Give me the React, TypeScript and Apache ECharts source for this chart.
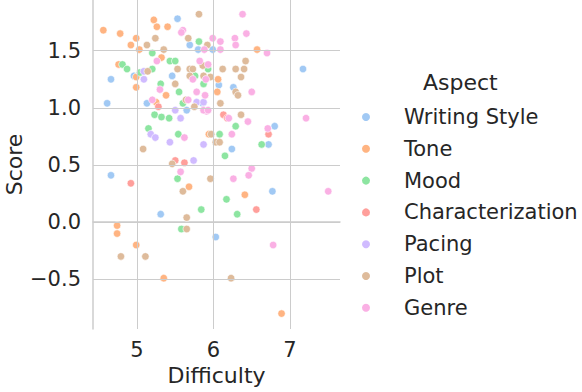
import React, { useEffect, useRef } from "react";
import * as echarts from "echarts";

const aspects = ["Writing Style", "Tone", "Mood", "Characterization", "Pacing", "Plot", "Genre"];
const palette = ["#a1c9f4", "#ffb482", "#8de5a1", "#ff9f9b", "#d0bbff", "#debb9b", "#fab0e4"];

const writingStyle = [
  [5.53, 1.78], [5.69, 1.55], [5.80, 1.51], [5.99, 1.51], [5.46, 1.28], [4.66, 1.25], [4.96, 1.28],
  [4.61, 1.04], [5.13, 1.04], [5.65, 0.98], [7.17, 1.34], [6.07, 1.20], [6.26, 1.18], [5.86, 1.04],
  [6.80, 0.84], [6.72, 0.68], [6.24, 0.64], [6.77, 0.27], [6.03, -0.13], [4.66, 0.41], [5.31, 0.07],
];
const tone = [
  [4.56, 1.68], [4.78, 1.65], [4.99, 1.61], [4.92, 1.55], [5.03, 1.51], [5.22, 1.77], [5.26, 1.71],
  [5.40, 1.71], [5.32, 1.44], [4.76, 1.38], [4.99, 1.27], [4.99, 1.18], [5.38, 1.11], [6.57, 1.51],
  [6.06, 1.25], [6.05, 1.14], [5.94, 0.77], [5.68, 0.31], [4.74, -0.03], [4.74, -0.10], [4.99, -0.20],
  [5.35, -0.49], [6.89, -0.80], [6.41, 0.24], [5.25, 1.05],
];
const mood = [
  [5.20, 1.48], [5.81, 1.58], [5.43, 1.41], [5.50, 1.41], [4.81, 1.38], [4.87, 1.34], [5.20, 1.34],
  [5.31, 1.21], [5.55, 1.14], [5.23, 0.94], [5.32, 0.92], [5.42, 0.91], [5.60, 1.04], [5.15, 0.82],
  [6.29, 0.84], [6.08, 0.77], [6.63, 0.68], [6.15, 0.58], [6.17, 0.20], [5.84, 0.11], [6.31, 0.07],
  [5.54, 0.77], [5.53, 0.38], [5.58, -0.06], [5.76, 1.28], [5.87, 1.21], [5.93, 1.34], [5.04, 1.31],
];
const characterization = [
  [5.28, 1.01], [6.13, 0.94], [6.72, 0.77], [6.56, 0.11], [5.50, 0.54], [5.62, 0.52], [4.92, 0.34],
  [6.18, 0.91],
];
const pacing = [
  [5.09, 1.32], [5.09, 1.25], [5.50, 0.98], [5.87, 0.68], [5.18, 0.77], [5.24, 0.74], [5.43, 0.70],
  [5.74, 0.54], [5.78, 1.05], [5.87, 1.05], [5.57, 0.91],
];
const plot = [
  [5.13, 1.55], [5.24, 1.61], [5.35, 1.51], [5.81, 1.82], [5.67, 1.61], [5.14, 1.32], [5.53, 1.34],
  [5.50, 1.21], [5.64, 1.07], [5.75, 1.01], [6.42, 1.41], [6.12, 1.34], [6.29, 1.34], [6.40, 1.34],
  [6.36, 1.27], [5.96, 1.27], [6.29, 1.14], [6.32, 1.11], [6.09, 1.04], [6.36, 0.94], [5.97, 0.77],
  [6.03, 0.70], [6.08, 0.70], [5.96, 0.38], [5.08, 0.64], [5.46, 0.51], [5.60, 0.27], [5.65, 0.04],
  [5.65, -0.06], [4.79, -0.30], [5.11, -0.30], [6.23, -0.49], [5.92, 1.55], [5.86, 1.37], [5.69, 1.34],
  [5.73, 1.34], [5.69, 1.28], [5.87, 1.28],
];
const genre = [
  [5.60, 1.68], [5.58, 1.66], [5.88, 1.51], [5.26, 1.41], [5.30, 1.16], [5.20, 1.07], [6.38, 1.82],
  [6.43, 1.65], [5.99, 1.61], [6.09, 1.58], [6.28, 1.61], [6.29, 1.55], [6.09, 1.51], [6.70, 1.48],
  [5.90, 1.25], [6.50, 1.14], [5.89, 1.11], [5.91, 0.97], [6.20, 0.91], [6.45, 0.88], [6.71, 0.82],
  [7.21, 0.91], [6.24, 0.77], [6.50, 0.47], [6.46, 0.41], [6.26, 0.38], [7.50, 0.27], [6.78, -0.20],
  [5.62, 0.74], [5.57, 0.44], [5.82, 1.41], [5.93, 1.38], [5.73, 1.25], [5.78, 1.14], [5.67, 1.07],
  [5.87, 0.98], [5.93, 0.98],
];
const seriesData = [writingStyle, tone, mood, characterization, pacing, plot, genre];

const xTicks = [5, 6, 7];
const yTicks = [-0.5, 0, 0.5, 1, 1.5];
const xRange = [4.425, 7.654];
const yRange = [-0.935, 1.944];

const FONT = "DejaVu Sans";
const TEXT = "#262626";
const GRID = "#cccccc";
const VIEW_W = 582;
const VIEW_H = 392;
const CHART_W = 660;

function fmtY(v: number): string {
  if (Math.abs(v * 2 - Math.round(v * 2)) > 1e-6) return "";
  const s = Math.abs(v).toFixed(1);
  return v < 0 ? "\u2212" + s : s;
}

export default function App() {
  const ref = useRef<HTMLDivElement>(null);
  useEffect(() => {
    if (!ref.current) return;
    const chart = echarts.init(ref.current, null, { renderer: "svg" });
    const gridSeries: any = {
      name: "__grid",
      type: "scatter",
      data: [],
      z: 1,
      silent: true,
      markLine: {
        silent: true,
        symbol: "none",
        animation: false,
        label: { show: false },
        lineStyle: { color: GRID, width: 1, type: "solid" },
        emphasis: { disabled: true },
        data: [
          ...xTicks.map((v) => ({ xAxis: v })),
          ...yTicks.map((v) => ({ yAxis: v })),
        ],
      },
    };
    chart.setOption({
      animation: false,
      color: palette,
      textStyle: { fontFamily: FONT },
      title: {
        text: "Aspect",
        left: 423,
        top: 71,
        padding: 0,
        textStyle: { fontFamily: FONT, fontSize: 22, fontWeight: "normal", color: TEXT },
      },
      legend: {
        data: aspects,
        orient: "vertical",
        left: 360,
        top: 106,
        padding: 0,
        itemWidth: 10,
        itemHeight: 10,
        itemGap: 9.8,
        icon: "circle",
        selectedMode: false,
        textStyle: {
          fontFamily: FONT,
          fontSize: 21,
          color: TEXT,
          lineHeight: 22,
          padding: [0, 0, 0, 28],
        },
      },
      grid: { left: 93, right: CHART_W - 340, top: 0, bottom: 63, containLabel: false },
      xAxis: {
        type: "value",
        min: xRange[0],
        max: xRange[1],
        minInterval: 1,
        name: "Difficulty",
        nameLocation: "middle",
        nameGap: 35,
        nameTextStyle: { fontFamily: FONT, fontSize: 22, color: TEXT },
        axisLine: { show: true, lineStyle: { color: GRID, width: 1.5 } },
        axisTick: { show: false },
        splitLine: { show: false },
        axisLabel: {
          fontFamily: FONT,
          fontSize: 21,
          color: TEXT,
          margin: 10,
          formatter: (v: number) => (Number.isInteger(v) ? String(v) : ""),
        },
      },
      yAxis: {
        type: "value",
        min: yRange[0],
        max: yRange[1],
        name: "Score",
        nameLocation: "middle",
        nameGap: 68,
        nameTextStyle: { fontFamily: FONT, fontSize: 22, color: TEXT },
        axisLine: { show: true, lineStyle: { color: GRID, width: 1.5 } },
        axisTick: { show: false },
        splitLine: { show: false },
        axisLabel: {
          fontFamily: FONT,
          fontSize: 21,
          color: TEXT,
          margin: 12,
          formatter: fmtY,
        },
      },
      series: [
        gridSeries,
        ...aspects.map((name, i) => ({
          name,
          type: "scatter",
          z: 2,
          symbol: "circle",
          symbolSize: 7.5,
          itemStyle: { color: palette[i], borderColor: "#ffffff", borderWidth: 0.6, opacity: 1 },
          data: seriesData[i],
        })),
      ],
    });
    return () => chart.dispose();
  }, []);
  return (
    <div
      style={{
        position: "fixed",
        left: 0,
        top: 0,
        width: VIEW_W,
        height: VIEW_H,
        overflow: "hidden",
        background: "#ffffff",
      }}
    >
      <div ref={ref} style={{ width: CHART_W, height: VIEW_H }} />
    </div>
  );
}
